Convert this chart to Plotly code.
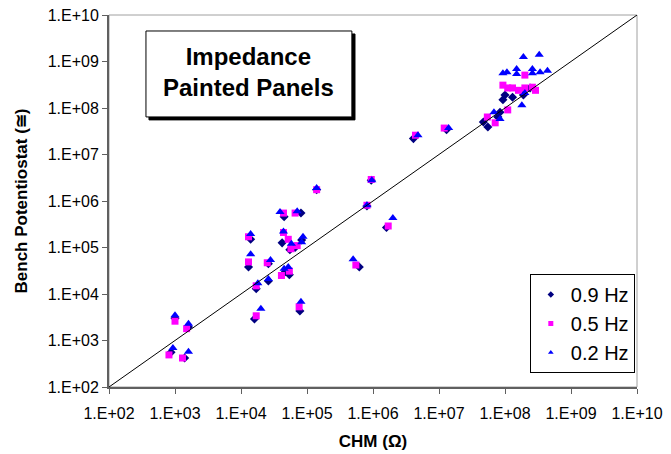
import plotly.graph_objects as go

# ---- data ----
chm_09 = [1000, 1600, 870, 1400, 1.4e4, 1.3e4, 2.6e4, 2.6e4, 1.7e4, 1.6e4,
          4.5e4, 8.1e4, 4.2e4, 6.6e4, 5.5e4, 8.3e4, 4.7e4, 5.4e4, 7.8e4,
          1.4e5, 9.4e5, 8.1e5, 1.6e6, 6.2e5, 4.1e6, 1.3e7, 4.7e7, 5.5e7,
          8.4e7, 9.3e7, 1.0e8, 1.3e8, 1.9e8, 7.8e7, 2.4e8]
bench_09 = [3.0e3, 1.95e3, 560, 420, 1.5e5, 3.8e4, 4.5e4, 1.9e4, 1.3e4, 2.9e3,
            4.6e5, 5.5e5, 1.26e5, 1.0e5, 9.0e4, 1.45e5, 3.0e4, 2.6e4, 4.3e3,
            1.75e6, 2.8e6, 7.8e5, 2.7e5, 3.8e4, 2.2e7, 3.4e7, 5.0e7, 3.9e7,
            8.1e7, 1.5e8, 1.9e8, 1.7e8, 1.9e8, 6.4e7, 2.7e8]

chm_05 = [1000, 1500, 810, 1300, 1.3e4, 1.3e4, 2.5e4, 1.7e4, 1.7e4, 4.4e4,
          6.6e4, 5.2e4, 5.7e4, 7.1e4, 4.4e4, 4.1e4, 5.4e4, 7.6e4, 1.4e5,
          9.4e5, 8.1e5, 1.7e6, 5.5e5, 4.4e6, 1.2e7, 5.4e7, 7.1e7, 1.1e8,
          2.0e8, 9.3e7, 1.1e8, 1.3e8, 1.6e8, 2.0e8, 2.6e8, 2.9e8]
bench_05 = [2.6e3, 1.8e3, 490, 420, 1.7e5, 4.9e4, 4.7e4, 1.5e4, 3.4e3, 5.5e5,
            5.5e5, 1.5e5, 9.4e4, 1.1e5, 2.1e5, 2.5e4, 3.1e4, 5.3e3, 1.75e6,
            2.9e6, 8.1e5, 2.9e5, 4.2e4, 2.6e7, 3.7e7, 6.4e7, 4.8e7, 9.1e7,
            5.1e8, 3.1e8, 2.7e8, 2.7e8, 2.4e8, 2.7e8, 2.8e8, 2.4e8]

chm_02 = [1000, 1600, 930, 1600, 1.4e4, 1.4e4, 2.8e4, 2.6e4, 1.8e4, 2.0e4,
          3.9e4, 7.1e4, 4.4e4, 5.8e4, 8.7e4, 8.3e4, 4.5e4, 5.2e4, 8.1e4,
          1.4e5, 9.6e5, 8.1e5, 2.0e6, 5.0e5, 4.8e6, 1.4e7, 6.8e7, 8.4e7,
          1.8e8, 2.0e8, 1.9e8, 3.3e8, 9.3e7, 1.07e8, 1.5e8, 1.5e8, 2.6e8,
          2.6e8, 3.4e8, 4.4e8]
bench_02 = [3.5e3, 2.3e3, 690, 570, 1.95e5, 7.2e4, 5.4e4, 2.1e4, 1.7e4, 4.8e3,
            5.8e5, 6.0e5, 2.2e5, 1.2e5, 1.7e5, 1.3e5, 3.5e4, 3.8e4, 6.8e3,
            1.9e6, 2.8e6, 8.1e5, 4.3e5, 5.6e4, 2.6e7, 3.7e7, 8.1e7, 5.8e7,
            1.15e8, 2.1e8, 1.25e9, 1.4e9, 5.6e8, 5.9e8, 6.9e8, 5.4e8, 6.9e8,
            5.6e8, 5.9e8, 6.3e8]

line_x = [1e2, 1e10]
line_y = [1e2, 1e10]

tick_vals = [1e2, 1e3, 1e4, 1e5, 1e6, 1e7, 1e8, 1e9, 1e10]
tick_text = ["1.E+02", "1.E+03", "1.E+04", "1.E+05", "1.E+06",
             "1.E+07", "1.E+08", "1.E+09", "1.E+10"]

series_names = ["0.9 Hz", "0.5 Hz", "0.2 Hz"]
series_colors = ["#000080", "#FF00FF", "#0000FF"]
series_symbols = ["diamond", "square", "triangle-up"]
title_text = "Impedance<br>Painted Panels"
x_title = "CHM (Ω)"
y_title = "Bench Potentiostat (≅)"

FONT = "Liberation Sans, Arial, sans-serif"

fig = go.Figure()
data_sets = [(chm_09, bench_09, 7), (chm_05, bench_05, 7), (chm_02, bench_02, 8)]
for (xs, ys, sz), nm, col, sym in zip(data_sets, series_names, series_colors, series_symbols):
    fig.add_trace(go.Scatter(x=xs, y=ys, mode="markers", name=nm, showlegend=False,
                             marker=dict(symbol=sym, size=sz, color=col)))
fig.add_trace(go.Scatter(x=line_x, y=line_y, mode="lines", showlegend=False,
                         line=dict(color="black", width=1)))
# legend entries with the small legend symbols
for nm, col, sym in zip(series_names, series_colors, series_symbols):
    fig.add_trace(go.Scatter(x=[None], y=[None], mode="markers", name=nm,
                             marker=dict(symbol=sym, size=5, color=col)))

axis_common = dict(type="log", range=[2, 10], tickvals=tick_vals, ticktext=tick_text,
                   showgrid=False, zeroline=False, showline=True, linecolor="#606060",
                   linewidth=2, ticks="outside", ticklen=5, tickcolor="#606060",
                   tickwidth=1, automargin=False,
                   tickfont=dict(family=FONT, size=16, color="black"))

fig.update_layout(
    width=671, height=454,
    margin=dict(l=109, r=34, t=15, b=67),
    paper_bgcolor="white", plot_bgcolor="white",
    font=dict(family=FONT, color="black"),
    xaxis=dict(axis_common, ticklabelstandoff=6,
               title=dict(text=f"<b>{x_title}</b>", font=dict(family=FONT, size=17),
                          standoff=14)),
    yaxis=dict(axis_common, title=dict(text=f"<b>{y_title}</b>",
               font=dict(family=FONT, size=17), standoff=16)),
    legend=dict(x=0.797, y=0.304, xanchor="left", yanchor="top",
                bordercolor="black", borderwidth=1, bgcolor="white",
                itemwidth=30, traceorder="normal",
                font=dict(family=FONT, size=20, color="black")),
    shapes=[
        # plot area border (top/right)
        dict(type="rect", xref="paper", yref="paper", x0=0, x1=1, y0=0, y1=1,
             line=dict(color="#a0a0a0", width=1), layer="below"),
        # title box shadow
        dict(type="rect", xref="paper", yref="paper", x0=0.0757, x1=0.4659,
             y0=0.718, y1=0.949, fillcolor="black", line=dict(color="black", width=1)),
        # title box
        dict(type="rect", xref="paper", yref="paper", x0=0.070, x1=0.460,
             y0=0.726, y1=0.957, fillcolor="white", line=dict(color="black", width=1)),
    ],
    annotations=[
        dict(text=f"<b>{title_text}</b>", xref="paper", yref="paper",
             x=0.265, y=0.846, xanchor="center", yanchor="middle", showarrow=False,
             font=dict(family=FONT, size=24, color="black"), align="center"),
    ],
)

fig.write_html("out.html")
